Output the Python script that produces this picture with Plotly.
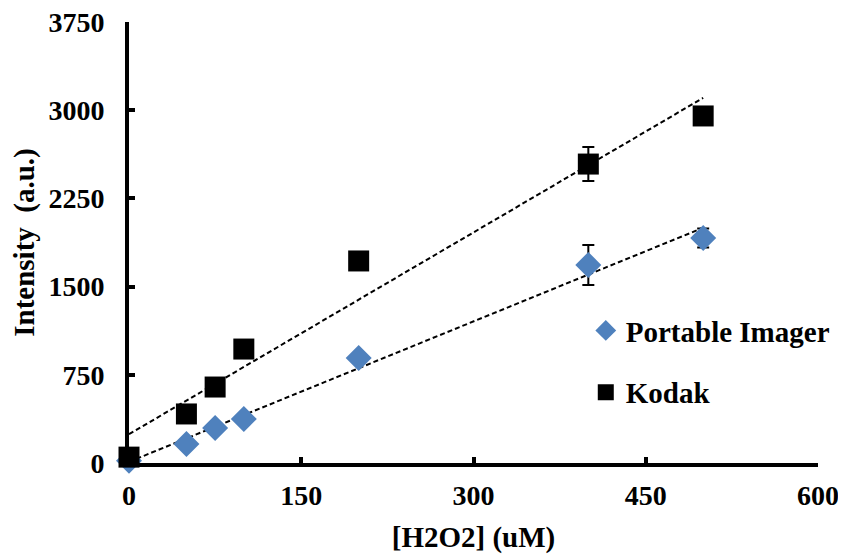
import numpy as np
import plotly.graph_objects as go

conc = [0, 50, 75, 100, 200, 400, 500]
portable = [20, 161, 298, 374, 893, 1684, 1913]
portable_err = [0, 0, 0, 0, 0, 170, 80]
kodak = [50, 417, 646, 969, 1718, 2542, 2951]
kodak_err = [0, 0, 0, 0, 70, 145, 0]
x_ticks = [0, 150, 300, 450, 600]
y_ticks = [0, 750, 1500, 2250, 3000, 3750]

FONT = "Liberation Serif"

fig = go.Figure()

# trendlines
for ys in (kodak, portable):
    m, b = np.polyfit(conc, ys, 1)
    xs = [min(conc), max(conc)]
    fig.add_trace(go.Scatter(x=xs, y=[m * v + b for v in xs], mode="lines",
                             line=dict(color="black", width=2, dash="5px,3px"),
                             showlegend=False, hoverinfo="skip"))

fig.add_trace(go.Scatter(
    x=conc, y=portable, mode="markers", name="Portable Imager",
    marker=dict(symbol="diamond", size=20, color="#4F81BD"),
    error_y=dict(type="data", array=portable_err, color="black", thickness=2, width=6),
    cliponaxis=False, legendgroup="a"))
fig.add_trace(go.Scatter(
    x=conc, y=kodak, mode="markers", name="Kodak",
    marker=dict(symbol="square", size=21, color="black"),
    error_y=dict(type="data", array=kodak_err, color="black", thickness=2, width=6),
    cliponaxis=False, legendgroup="b"))

axis_common = dict(showgrid=False, zeroline=False, showline=True, linecolor="black",
                   linewidth=4, ticks="inside", ticklen=6, tickwidth=4, tickcolor="black",
                   automargin=False, ticklabeloverflow="allow",
                   tickfont=dict(family=FONT, size=28, color="black", weight="bold"))

fig.update_layout(
    width=838, height=546,
    margin=dict(l=121, r=27, t=14, b=91),
    plot_bgcolor="white", paper_bgcolor="white",
    font=dict(family=FONT, color="black"),
    xaxis=dict(range=[0, 600], tickvals=x_ticks, ticktext=[str(v) for v in x_ticks],
               ticklabelstandoff=4,
               title=dict(text="[H2O2] (uM)", font=dict(family=FONT, size=29, weight="bold"), standoff=36),
               **axis_common),
    yaxis=dict(range=[0, 3750], tickvals=y_ticks, ticktext=[str(v) for v in y_ticks],
               ticklabelstandoff=15,
               title=dict(text="Intensity  (a.u.)", font=dict(family=FONT, size=29, weight="bold"), standoff=19),
               **axis_common),
    legend=dict(x=0.662, y=0.358, xanchor="left", yanchor="top", bgcolor="rgba(0,0,0,0)",
                font=dict(family=FONT, size=29, color="black", weight="bold"), tracegroupgap=21,
                itemwidth=30, traceorder="grouped"),
)

fig.write_html("out.html")
